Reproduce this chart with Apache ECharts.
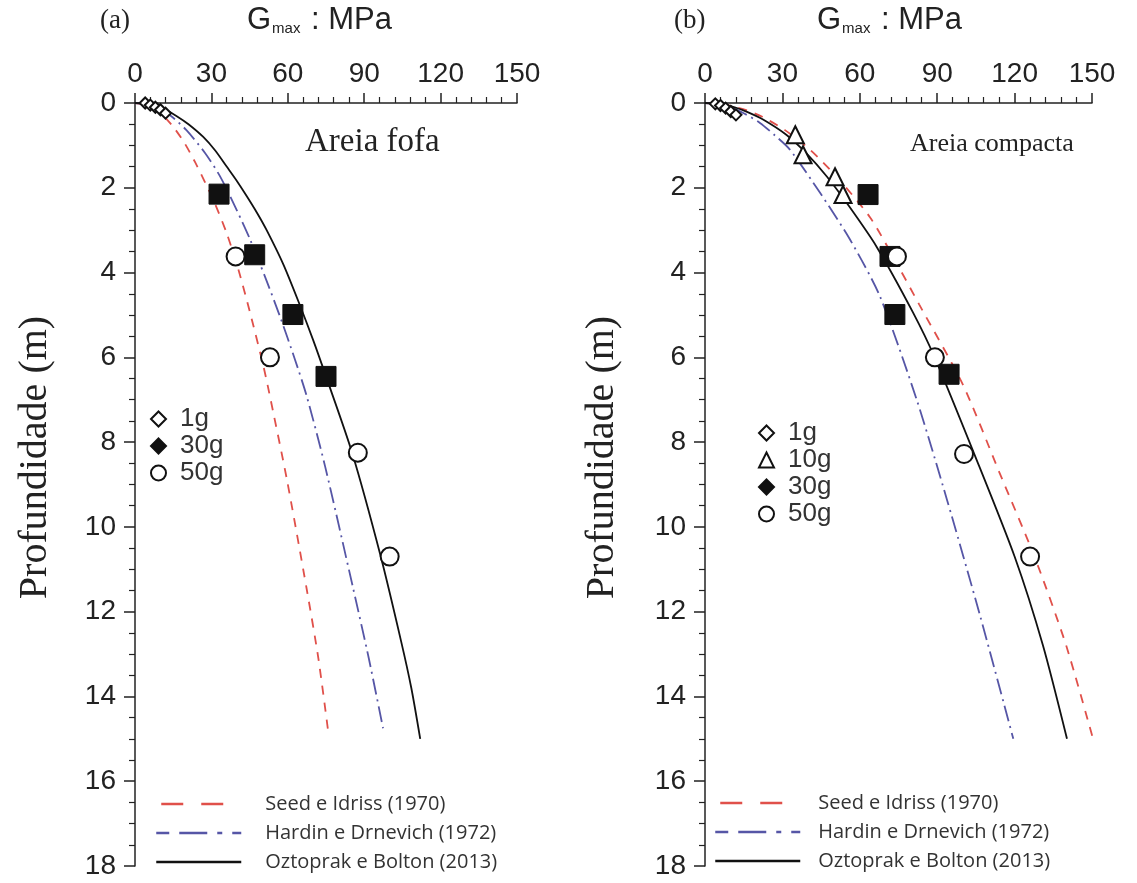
<!DOCTYPE html>
<html>
<head>
<meta charset="utf-8">
<script src="https://cdn.jsdelivr.net/npm/echarts@6/dist/echarts.min.js"></script>
<style>html,body{margin:0;padding:0;background:#fff;}#c{width:1137px;height:883px;}</style>
</head>
<body>
<div id="c"></div>
<script>
// ---- data (G in MPa, depth in m) ----
const xTicks = [0, 30, 60, 90, 120, 150];
const yTicks = [0, 2, 4, 6, 8, 10, 12, 14, 16, 18];

// Panel (a) Areia fofa
const a_1g = [[4,0.0],[6,0.05],[8,0.1],[10,0.16],[12,0.24]];
const a_30g = [[33,2.15],[47,3.58],[62,4.99],[75,6.45]];
const a_50g = [[39.5,3.62],[53,6.0],[87.5,8.25],[100,10.7]];
const a_seed = [[0,0],[2.8,0.02],[4.8,0.06],[7.7,0.15],[11,0.3],[15,0.56],[19.5,0.95],[23.8,1.42],[30.7,2.28],[36,3.07],[40.6,3.93],[45.2,4.95],[50.4,6.2],[52.4,6.75],[59.6,8.87],[67.4,11.46],[72,13.1],[75.8,14.8]];
const a_hardin = [[0,0],[4,0.025],[6.5,0.07],[9.8,0.15],[14,0.3],[20.2,0.64],[27.5,1.18],[33.4,1.73],[39.9,2.52],[45.2,3.22],[51,4.09],[56.9,5.03],[62.8,6.05],[67.4,6.91],[74.6,8.56],[85.7,11.46],[91.8,13.1],[97.4,14.75]];
const a_oztoprak = [[0,0],[3,0.01],[5.9,0.04],[8.4,0.08],[12,0.16],[16.4,0.31],[21,0.5],[26.8,0.8],[31.5,1.12],[36,1.5],[40,1.84],[43.9,2.2],[48,2.6],[51.7,3.0],[58.2,3.8],[64.3,4.7],[70,5.6],[75,6.45],[85.2,8.24],[96.5,10.7],[104.5,12.7],[108.5,13.8],[112,15]];

// Panel (b) Areia compacta
const b_1g = [[4,0.02],[6,0.06],[8,0.12],[10,0.2],[12,0.28]];
const b_10g = [[35,0.75],[38,1.22],[50.4,1.74],[53.5,2.16]];
const b_30g = [[63.2,2.16],[71.7,3.62],[73.6,4.99],[94.6,6.4]];
const b_50g = [[74.4,3.62],[89.1,6.0],[100.4,8.28],[126,10.7]];
const b_seed = [[0,0],[4,0.01],[7.8,0.04],[11.5,0.09],[16,0.17],[22,0.32],[31,0.64],[41,1.12],[51,1.74],[64,2.7],[75,3.86],[83,4.75],[100,6.65],[114,8.7],[128,10.75],[140,12.8],[150.4,15.0]];
const b_hardin = [[0,0],[3.5,0.013],[6.2,0.04],[10.7,0.12],[15,0.24],[21.3,0.47],[27,0.76],[32.9,1.1],[44.6,2.12],[56.2,3.22],[67.8,4.56],[82,6.99],[93.7,9.34],[106.6,12.09],[119.5,15.0]];
const b_oztoprak = [[0,0],[3.8,0.011],[8,0.05],[11.5,0.1],[16.3,0.21],[22.5,0.39],[31.5,0.75],[39.5,1.2],[47.3,1.74],[56,2.45],[66.5,3.39],[80.6,4.94],[89,6.0],[104.5,8.3],[120,10.7],[131,12.8],[140.3,15.0]];

const lineNames = ['Seed e Idriss (1970)', 'Hardin e Drnevich (1972)', 'Oztoprak e Bolton (2013)'];
const panelLabels = ['(a)', '(b)'];
const panelNotes = ['Areia fofa', 'Areia compacta'];

// ---- styling ----
const RED = '#e0504a', BLUE = '#5656a6', BLACK = '#111';
const redDash = [9, 8], blueDash = [16, 5, 2, 5];
const sans = 'Liberation Sans', serif = 'Liberation Serif';

const grids = [
  {left: 135, right: 620, top: 103, bottom: 17},
  {left: 705, right: 45, top: 103, bottom: 17}
];

function xAxis(i) {
  return {
    gridIndex: i, type: 'value', position: 'top', min: 0, max: 150, interval: 30,
    axisLine: {show: true, lineStyle: {color: '#222', width: 1.5}},
    axisTick: {show: true, inside: false, length: 10, lineStyle: {color: '#222', width: 1.5}},
    minorTick: {show: true, splitNumber: 5, length: 6, lineStyle: {color: '#222', width: 1.2}},
    axisLabel: {show: true, fontFamily: sans, fontSize: 28, color: '#222', margin: 15,
      formatter: v => xTicks.includes(v) ? String(v) : ''},
    splitLine: {show: false}
  };
}
function yAxis(i) {
  return {
    gridIndex: i, type: 'value', inverse: true, min: 0, max: 18, interval: 2,
    name: 'Profundidade (m)', nameLocation: 'middle', nameGap: i === 0 ? 80 : 83, nameRotate: 90,
    nameTextStyle: {fontFamily: serif, fontSize: 40, color: '#222', padding: [0, 0, 0, 54]},
    axisLine: {show: true, lineStyle: {color: '#222', width: 1.5}},
    axisTick: {show: true, inside: false, length: 11, lineStyle: {color: '#222', width: 1.5}},
    minorTick: {show: true, splitNumber: 4, length: 6, lineStyle: {color: '#222', width: 1.2}},
    axisLabel: {show: true, fontFamily: sans, fontSize: 28, color: '#222', margin: 19,
      formatter: v => yTicks.includes(v) ? String(v) : ''},
    splitLine: {show: false}
  };
}

function scatter(name, data, i, symbol, size, filled) {
  return {
    name: name, type: 'scatter', xAxisIndex: i, yAxisIndex: i, data: data,
    symbol: symbol, symbolSize: size, z: 5,
    itemStyle: filled ? {color: '#111', borderColor: '#111', borderWidth: 1, opacity: 1}
                      : {color: '#fff', borderColor: '#111', borderWidth: 2, opacity: 1}
  };
}
function curve(name, data, i, color, type, width) {
  return {
    name: name, type: 'line', xAxisIndex: i, yAxisIndex: i, data: data,
    smooth: 0.25, symbol: 'none', z: 3,
    lineStyle: {color: color, type: type, width: width}
  };
}

const series = [
  curve(lineNames[0], a_seed, 0, RED, redDash, 1.8),
  curve(lineNames[1], a_hardin, 0, BLUE, blueDash, 1.8),
  curve(lineNames[2], a_oztoprak, 0, BLACK, 'solid', 1.8),
  scatter('1g', a_1g, 0, 'diamond', 11, false),
  scatter('30g', a_30g, 0, 'rect', 20, true),
  scatter('50g', a_50g, 0, 'circle', 18, false),
  curve(lineNames[0], b_seed, 1, RED, redDash, 1.8),
  curve(lineNames[1], b_hardin, 1, BLUE, blueDash, 1.8),
  curve(lineNames[2], b_oztoprak, 1, BLACK, 'solid', 1.8),
  scatter('1g', b_1g, 1, 'diamond', 11, false),
  scatter('10g', b_10g, 1, 'triangle', 17, false),
  scatter('30g', b_30g, 1, 'rect', 20, true),
  scatter('50g', b_50g, 1, 'circle', 18, false)
];

function markerLegend(left, top, names) {
  return {
    orient: 'vertical', left: left, top: top, padding: 0, itemWidth: 15, itemHeight: 15, itemGap: 1,
    selectedMode: false,
    textStyle: {fontFamily: sans, fontSize: 26, color: '#333', lineHeight: 25, padding: [0, 0, 0, 9]},
    data: names.map(n => n === '30g' ? {name: n, icon: 'diamond'} : {name: n})
  };
}
function lineLegend(left, top, textPad) {
  return {
    orient: 'vertical', left: left, top: top, padding: 0, itemWidth: 85, itemHeight: 12, itemGap: 5,
    selectedMode: false,
    textStyle: {fontFamily: 'Open Sans', fontSize: 20, color: '#333', lineHeight: 24, padding: [0, 0, 0, textPad]},
    data: [
      {name: lineNames[0], itemStyle: {opacity: 0}, lineStyle: {type: [22, 18, 22, 23], dashOffset: 80, width: 2.5, color: RED}},
      {name: lineNames[1], itemStyle: {opacity: 0}, lineStyle: {type: [28, 10, 5, 10, 40, 10], width: 2.5, color: BLUE}},
      {name: lineNames[2], itemStyle: {opacity: 0}, lineStyle: {type: 'solid', width: 2.5, color: BLACK}}
    ]
  };
}

function gmaxTitle(left) {
  return {
    type: 'text', left: left, top: 5,
    style: {
      text: '{g|G}{s|max}{g| : MPa}',
      rich: {
        g: {fontFamily: sans, fontSize: 31, fill: '#222', verticalAlign: 'bottom'},
        s: {fontFamily: sans, fontSize: 15, fill: '#222', padding: [18, 2, 0, 1], verticalAlign: 'bottom'}
      }
    }
  };
}

const option = {
  backgroundColor: '#fff',
  animation: false,
  grid: grids,
  xAxis: [xAxis(0), xAxis(1)],
  yAxis: [yAxis(0), yAxis(1)],
  legend: [
    markerLegend(150, 406, ['1g', '30g', '50g']),
    markerLegend(758, 420, ['1g', '10g', '30g', '50g']),
    lineLegend(155, 792, 19),
    lineLegend(714, 791, 13)
  ],
  graphic: [
    {type: 'text', left: 100, top: 7, style: {text: panelLabels[0], fontFamily: serif, fontSize: 27, fill: '#222'}},
    {type: 'text', left: 674, top: 7, style: {text: panelLabels[1], fontFamily: serif, fontSize: 27, fill: '#222'}},
    gmaxTitle(247),
    gmaxTitle(817),
    {type: 'text', left: 305, top: 126, style: {text: panelNotes[0], fontFamily: serif, fontSize: 33, fill: '#222'}},
    {type: 'text', left: 910, top: 131, style: {text: panelNotes[1], fontFamily: serif, fontSize: 26, fill: '#222'}}
  ],
  series: series
};

const chart = echarts.init(document.getElementById('c'), null, {renderer: 'canvas'});
chart.setOption(option);
</script>
</body>
</html>
